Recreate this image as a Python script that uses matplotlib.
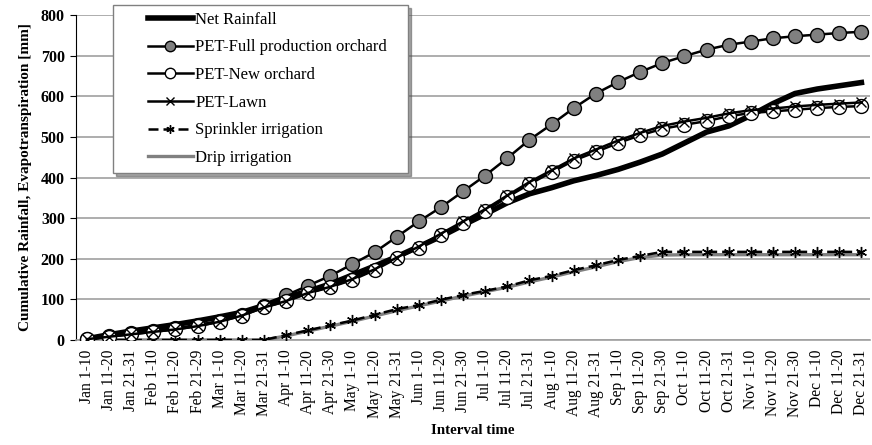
import matplotlib
matplotlib.use("Agg")
import matplotlib.pyplot as plt
from matplotlib.legend_handler import HandlerLine2D

intervals = [
    "Jan 1-10", "Jan 11-20", "Jan 21-31", "Feb 1-10", "Feb 11-20", "Feb 21-29",
    "Mar 1-10", "Mar 11-20", "Mar 21-31", "Apr 1-10", "Apr 11-20", "Apr 21-30",
    "May 1-10", "May 11-20", "May 21-31", "Jun 1-10", "Jun 11-20", "Jun 21-30",
    "Jul 1-10", "Jul 11-20", "Jul 21-31", "Aug 1-10", "Aug 11-20", "Aug 21-31",
    "Sep 1-10", "Sep 11-20", "Sep 21-30", "Oct 1-10", "Oct 11-20", "Oct 21-31",
    "Nov 1-10", "Nov 11-20", "Nov 21-30", "Dec 1-10", "Dec 11-20", "Dec 21-31",
]

net_rainfall = [3, 13, 22, 30, 38, 47, 57, 68, 85, 105, 120, 138,
                160, 182, 205, 230, 255, 283, 310, 338, 360, 375,
                392, 405, 420, 438, 458, 485, 512, 527, 553, 582,
                607, 618, 626, 634]

pet_full = [2, 10, 17, 23, 29, 37, 47, 62, 84, 110, 134, 158,
            187, 216, 254, 292, 327, 366, 405, 448, 493, 531,
            571, 607, 635, 660, 682, 699, 715, 727, 735, 743,
            748, 752, 756, 759]

pet_new = [2, 8, 14, 20, 26, 34, 45, 60, 80, 95, 115, 130,
           148, 172, 201, 227, 258, 288, 317, 352, 384, 413,
           442, 463, 485, 504, 520, 530, 539, 551, 559, 563,
           567, 571, 574, 576]

pet_lawn = [2, 8, 14, 20, 26, 34, 45, 60, 80, 96, 116, 131,
            150, 174, 203, 230, 262, 292, 322, 356, 389, 418,
            447, 469, 491, 510, 527, 538, 547, 558, 566, 570,
            575, 579, 582, 585]

sprinkler = [0, 0, 0, 0, 0, 0, 0, 0, 0, 12, 24, 36,
             48, 62, 76, 86, 99, 111, 121, 132, 147, 158,
             172, 184, 197, 207, 217, 217, 217, 217, 217, 217,
             217, 217, 217, 217]

drip = [0, 0, 0, 0, 0, 0, 0, 0, 0, 10, 22, 34,
        46, 59, 72, 84, 96, 108, 119, 130, 143, 155,
        168, 180, 193, 203, 209, 210, 210, 210, 210, 210,
        210, 210, 210, 210]

plt.rcParams['font.family'] = ['Liberation Serif', 'DejaVu Serif']

fig = plt.figure(figsize=(8.72, 4.45), dpi=100)
ax = fig.add_axes([0.087, 0.236, 0.911, 0.730])

x = range(len(intervals))

ax.plot(x, drip, color='#808080', lw=2.4, label='Drip irrigation', zorder=3)
ax.plot(x, sprinkler, color='black', lw=1.8, ls=(0, (4, 2)), marker=(6, 2, 0),
        ms=8, mew=1.0, label='Sprinkler irrigation', zorder=4)
ax.plot(x, pet_full, color='black', lw=1.8, marker='o', ms=10,
        mfc='#808080', mec='black', mew=1.0,
        label='PET-Full production orchard', zorder=5)
ax.plot(x, net_rainfall, color='black', lw=4, label='Net Rainfall', zorder=6)
ax.plot(x, pet_new, color='black', lw=1.8, marker='o', ms=10,
        mfc='white', mec='black', mew=1.0, label='PET-New orchard', zorder=7)
ax.plot(x, pet_lawn, color='black', lw=1.8, marker='x', ms=7, mew=1.0,
        label='PET-Lawn', zorder=8)

ax.set_xlim(-0.5, 35.4)
ax.set_ylim(0, 800)
ax.set_yticks(range(0, 801, 100))
ax.set_xticks(list(x))
ax.set_xticklabels(intervals, rotation=90, fontsize=11.2)
for t in ax.get_yticklabels():
    t.set_fontweight('bold')
    t.set_fontsize(11.5)

ax.grid(axis='y', color='#a0a0a0', lw=1.2)
ax.set_axisbelow(True)
for s in ['top', 'right']:
    ax.spines[s].set_visible(False)
ax.spines['bottom'].set_color('#a0a0a0')
ax.spines['bottom'].set_linewidth(1.2)
ax.spines['left'].set_color('black')
ax.tick_params(axis='x', length=0, pad=7)
ax.tick_params(axis='y', length=4, pad=4)

ax.set_ylabel('Cumulative Rainfall, Evapotranspiration [mm]', fontsize=11,
              fontweight='bold', labelpad=6)
ax.set_xlabel('Interval time', fontsize=10.8, fontweight='bold', labelpad=4)

handles, labels = ax.get_legend_handles_labels()
order = ['Net Rainfall', 'PET-Full production orchard', 'PET-New orchard',
         'PET-Lawn', 'Sprinkler irrigation', 'Drip irrigation']
hl = dict(zip(labels, handles))
hmap = {h: HandlerLine2D(xpad=1.7, marker_pad=0.3) for h in handles}
leg = ax.legend([hl[k] for k in order], order, loc='upper left',
                bbox_to_anchor=(0.0466, 0, 0.3715, 1.031), mode='expand',
                fontsize=12, frameon=True, fancybox=False, shadow=True,
                handlelength=4.4, labelspacing=0.7, borderpad=0.4,
                handletextpad=0.15, borderaxespad=0, handler_map=hmap,
                markerscale=0.75)
leg.get_frame().set_edgecolor('#808080')
leg.get_frame().set_linewidth(1.0)
leg.set_zorder(20)

fig.savefig('out.png', dpi=100)
